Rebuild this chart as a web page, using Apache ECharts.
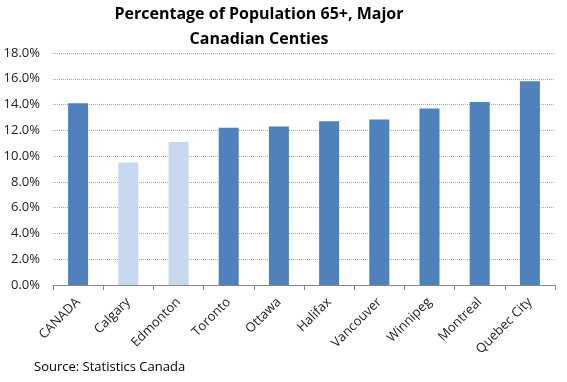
<!DOCTYPE html>
<html><head><meta charset="utf-8">
<script src="https://cdn.jsdelivr.net/npm/echarts@6/dist/echarts.min.js"></script>
<style>html,body{margin:0;padding:0;background:#fff}#c{width:567px;height:382px}</style>
</head><body><div id="c"></div>
<script>
const categories = ["CANADA","Calgary","Edmonton","Toronto","Ottawa","Halifax","Vancouver","Winnipeg","Montreal","Quebec City"];
const values = [14.1, 9.5, 11.1, 12.2, 12.3, 12.7, 12.85, 13.7, 14.2, 15.8];
const highlighted = [false, true, true, false, false, false, false, false, false, false];
const yTicks = [0, 2, 4, 6, 8, 10, 12, 14, 16, 18];
const titleText = "Percentage of Population 65+, Major\nCanadian Centies";
const sourceText = "Source: Statistics Canada";

const FONT = "Open Sans";
const chart = echarts.init(document.getElementById('c'), null, {renderer:'canvas'});
chart.setOption({
  animation:false,
  backgroundColor:'#fff',
  title:{text:titleText,left:254,textAlign:'center',top:-3,
    textStyle:{fontFamily:FONT,fontSize:16,fontWeight:'bold',color:'#000',lineHeight:25}},
  graphic:[{type:'text',left:34,top:361,style:{text:sourceText,font:'13px "Open Sans"',fill:'#000'}}],
  grid:{left:53,right:12,top:53,bottom:97,containLabel:false},
  xAxis:{type:'category',data:categories,boundaryGap:true,
    axisLine:{lineStyle:{color:'#888'}},
    axisTick:{show:true,length:5,lineStyle:{color:'#888'}},
    axisLabel:{rotate:45,fontFamily:FONT,fontSize:13,color:'#222',margin:15,interval:0,padding:[0,0,0,0]}},
  yAxis:{type:'value',min:yTicks[0],max:yTicks[yTicks.length-1],interval:2,
    axisLine:{show:false},axisTick:{show:false},
    splitLine:{lineStyle:{color:'#aaa',type:[1,1]}},
    axisLabel:{formatter:v=>v.toFixed(1)+'%',fontFamily:FONT,fontSize:13,color:'#222',margin:13}},
  series:[{type:'bar',barWidth:20,
    data:values.map((v,i)=>({value:v,itemStyle:{color:highlighted[i]?'#C6D9F0':'#4F81BD'}}))}]
});
</script></body></html>
